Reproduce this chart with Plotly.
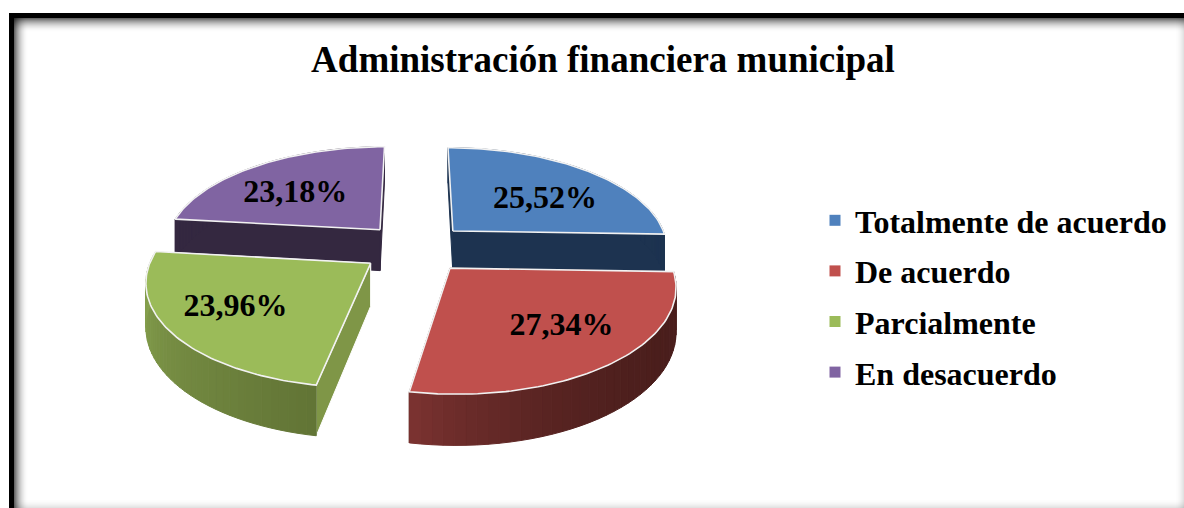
import numpy as np
import plotly.graph_objects as go

categorias = ['Totalmente de acuerdo', 'De acuerdo', 'Parcialmente', 'En desacuerdo']
valores = [25.52, 27.34, 23.96, 23.18]
etiquetas = ['25,52%', '27,34%', '23,96%', '23,18%']

colores = ['#4f81bd', '#c0504d', '#9bbb59', '#8064a2']
color_corte = ['#1d3350', '#4a1f1c', '#7f9647', '#342840']
pared_ini = [(29, 51, 80), (74, 30, 28), (98, 117, 54), (52, 40, 64)]
pared_fin = [(29, 51, 80), (122, 50, 48), (137, 165, 80), (52, 40, 64)]
curva_pared = [1, 3, 1, 1]
radio_etiqueta = [0.58, 0.68, 0.69, 0.59]
giro_etiqueta = [8, -2.5, 1, -6]
orden = [3, 0, 2, 1]  # de atras hacia adelante

# proyeccion del pastel 3D sobre el plano (en pixeles de la figura)
CX, CY = 415, 248
ESC_X, ESC_Y = 216, 100.5
PERSP = 0.15
ALTO = 42
PULL = 0.25
FUENTE = 'Liberation Serif'


def proyectar(u, v):
    w = 1 - PERSP * v
    return CX + ESC_X * u / w, CY + ESC_Y * v / w


def base(x, v):
    return x + ALTO / (1 - PERSP * v)


def punto(ang, r, ox, oy):
    a = np.radians(ang)
    return ox + r * np.sin(a), oy - r * np.cos(a)


def poligono(fig, xs, ys, fill, linea=None, ancho=1):
    fig.add_trace(go.Scatter(
        x=xs, y=ys, mode='lines', fill='toself', fillcolor=fill,
        line=dict(color=linea or fill, width=ancho),
        hoverinfo='skip', showlegend=False,
    ))


fig = go.Figure()

bordes = np.cumsum([0] + valores) / sum(valores) * 360

for i in orden:
    ini, fin = bordes[i], bordes[i + 1]
    medio = (ini + fin) / 2
    ox = PULL * np.sin(np.radians(medio))
    oy = -PULL * np.cos(np.radians(medio))

    # caras de corte
    for ang in (fin, ini):
        u, v = punto(ang, 1, ox, oy)
        xa, ya = proyectar(ox, oy)
        xb, yb = proyectar(u, v)
        poligono(fig, [xa, xb, xb, xa, xa],
                 [ya, yb, base(yb, v), base(ya, oy), ya],
                 color_corte[i], '#ffffff' if i == 2 else None, 1)

    # pared exterior con degradado
    angs = np.linspace(ini, fin, 41)
    for k in range(40):
        t = (k / 39) ** curva_pared[i]
        r, g, b = [int(pared_ini[i][c] + (pared_fin[i][c] - pared_ini[i][c]) * t) for c in range(3)]
        col = f'rgb({r},{g},{b})'
        u1, v1 = punto(angs[k], 1, ox, oy)
        u2, v2 = punto(angs[k + 1], 1, ox, oy)
        x1, y1 = proyectar(u1, v1)
        x2, y2 = proyectar(u2, v2)
        poligono(fig, [x1, x2, x2, x1, x1],
                 [y1, y2, base(y2, v2), base(y1, v1), y1], col)

    # cara superior
    us, vs = punto(np.linspace(ini, fin, 80), 1, ox, oy)
    xs, ys = proyectar(np.r_[ox, us, ox], np.r_[oy, vs, oy])
    poligono(fig, xs, ys, colores[i], '#f2f2f2', 1.6)

# etiquetas de porcentaje
for i in range(4):
    medio = (bordes[i] + bordes[i + 1]) / 2
    ox = PULL * np.sin(np.radians(medio))
    oy = -PULL * np.cos(np.radians(medio))
    u, v = punto(medio + giro_etiqueta[i], radio_etiqueta[i], ox, oy)
    x, y = proyectar(u, v)
    fig.add_trace(go.Scatter(
        x=[x], y=[y], mode='text', text=[etiquetas[i]],
        textfont=dict(family=FUENTE, size=32, color='black', weight='bold'),
        hoverinfo='skip', showlegend=False,
    ))

# leyenda
for i in range(4):
    fig.add_trace(go.Scatter(
        x=[None], y=[None], mode='markers', name=categorias[i], legendgroup=categorias[i],
        marker=dict(symbol='square', size=11, color=colores[i]),
    ))

# marco negro con sombra interior
formas = []
for k in range(14):
    alfa = 0.6 * (1 - k / 14) ** 2
    col = f'rgba(0,0,0,{alfa:.3f})'
    formas.append(dict(type='rect', xref='x', yref='y', layer='below', x0=14 + k, x1=15 + k, y0=18, y1=508,
                       fillcolor=col, line_width=0))
    formas.append(dict(type='rect', xref='x', yref='y', layer='below', x0=14, x1=1184, y0=18 + k, y1=19 + k,
                       fillcolor=col, line_width=0))
for k in range(10):
    alfa = 0.14 * (k / 10) ** 2
    col = f'rgba(0,0,0,{alfa:.3f})'
    formas.append(dict(type='rect', xref='x', yref='y', layer='below', x0=14, x1=1184, y0=498 + k, y1=499 + k,
                       fillcolor=col, line_width=0))
    formas.append(dict(type='rect', xref='x', yref='y', layer='below', x0=1174 + k, x1=1175 + k, y0=18, y1=508,
                       fillcolor=col, line_width=0))
formas.append(dict(type='rect', xref='x', yref='y', x0=9, x1=14, y0=13, y1=508, fillcolor='black', line_width=0))
formas.append(dict(type='rect', xref='x', yref='y', x0=9, x1=1184, y0=13, y1=18, fillcolor='black', line_width=0))

fig.update_layout(
    width=1184,
    height=508,
    margin=dict(l=0, r=0, t=0, b=0),
    paper_bgcolor='white',
    plot_bgcolor='white',
    shapes=formas,
    title=dict(
        text='<b>Administración financiera municipal</b>',
        x=603 / 1184, xanchor='center',
        y=1 - 59 / 508, yanchor='middle',
        font=dict(family=FUENTE, size=37, color='black'),
    ),
    legend=dict(
        x=815 / 1184, xanchor='left',
        y=1 - 193 / 508, yanchor='top',
        font=dict(family=FUENTE, size=32, color='black', weight='bold'),
        tracegroupgap=6,
        bgcolor='rgba(0,0,0,0)',
    ),
    xaxis=dict(range=[0, 1184], visible=False, fixedrange=True),
    yaxis=dict(range=[508, 0], visible=False, fixedrange=True),
)

fig.write_html(
    'out.html',
    config={'displayModeBar': False},
    post_script="document.body.style.margin='0';document.body.style.overflow='hidden';",
)
